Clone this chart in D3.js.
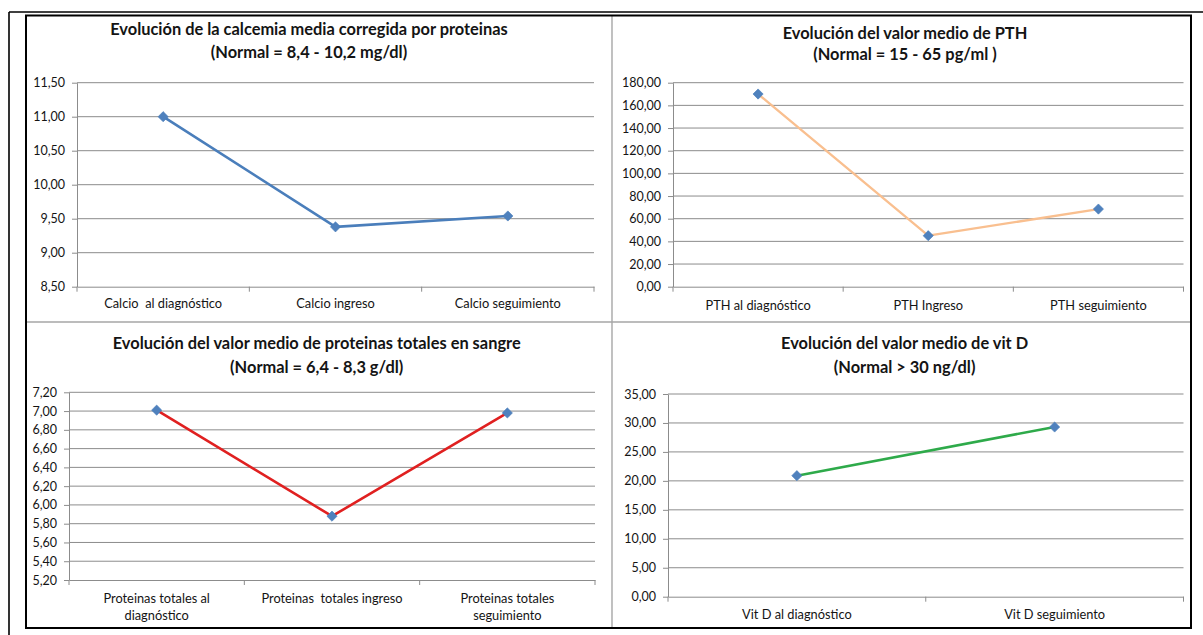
<!DOCTYPE html>
<html lang="es">
<head>
<meta charset="utf-8">
<script src="https://cdn.jsdelivr.net/npm/d3@7"></script>
<style>
  html, body { margin: 0; padding: 0; background: #ffffff; }
  svg { display: block; font-family: Lato, "Open Sans", sans-serif; }
  text { white-space: pre; }
</style>
</head>
<body>
<svg id="chart" width="1203" height="635"></svg>
<script>
// ---- Calcemia corregida por proteínas ----
const calcioTitulo = ["Evolución de la calcemia media corregida por proteinas", "(Normal = 8,4 - 10,2 mg/dl)"];
const calcioCategorias = [["Calcio  al diagnóstico"], ["Calcio ingreso"], ["Calcio seguimiento"]];
const calcioValores = [11.00, 9.38, 9.54];
const calcioTicks = [8.5, 9.0, 9.5, 10.0, 10.5, 11.0, 11.5];

// ---- PTH ----
const pthTitulo = ["Evolución del valor medio de PTH", "(Normal = 15 - 65 pg/ml )"];
const pthCategorias = [["PTH al diagnóstico"], ["PTH Ingreso"], ["PTH seguimiento"]];
const pthValores = [170.0, 45.0, 68.5];
const pthTicks = [0, 20, 40, 60, 80, 100, 120, 140, 160, 180];

// ---- Proteínas totales ----
const protTitulo = ["Evolución del valor medio de proteinas totales en sangre", "(Normal = 6,4 - 8,3 g/dl)"];
const protCategorias = [["Proteinas totales al", "diagnóstico"], ["Proteinas  totales ingreso"], ["Proteinas totales", "seguimiento"]];
const protValores = [7.01, 5.88, 6.98];
const protTicks = [5.2, 5.4, 5.6, 5.8, 6.0, 6.2, 6.4, 6.6, 6.8, 7.0, 7.2];

// ---- Vitamina D ----
const vitdTitulo = ["Evolución del valor medio de vit D", "(Normal > 30 ng/dl)"];
const vitdCategorias = [["Vit D al diagnóstico"], ["Vit D seguimiento"]];
const vitdValores = [20.9, 29.3];
const vitdTicks = [0, 5, 10, 15, 20, 25, 30, 35];

const fmt = d3.formatLocale({ decimal: ",", thousands: ".", grouping: [3], currency: ["", " €"] }).format(".2f");

const svg = d3.select("#chart");
const W = 1203, H = 635;

// outer frame lines
svg.append("line").attr("x1", 9).attr("y1", 12).attr("x2", W + 5).attr("y2", 12)
  .attr("stroke", "#000").attr("stroke-width", 1.6);
svg.append("line").attr("x1", 9).attr("y1", 12).attr("x2", 9).attr("y2", H + 5)
  .attr("stroke", "#000").attr("stroke-width", 1.6);

// panel separators
svg.append("line").attr("x1", 612).attr("y1", 16).attr("x2", 612).attr("y2", 628)
  .attr("stroke", "#a6a6a6").attr("stroke-width", 1.4);
svg.append("line").attr("x1", 26).attr("y1", 322).attr("x2", 1191).attr("y2", 322)
  .attr("stroke", "#a6a6a6").attr("stroke-width", 1.4);

// inner border
svg.append("rect").attr("x", 26).attr("y", 15.5).attr("width", 1165).attr("height", 612.5)
  .attr("fill", "none").attr("stroke", "#000").attr("stroke-width", 2);

const paneles = [
  { titulo: calcioTitulo, cats: calcioCategorias, vals: calcioValores, ticks: calcioTicks,
    color: "#4a7ebb", lw: 2.6, x0: 77, x1: 594, yTop: 82.7, yBot: 286.7,
    tx: 309, ty: 34.5, tGap: 23, lblOff: 21.3 },
  { titulo: pthTitulo, cats: pthCategorias, vals: pthValores, ticks: pthTicks,
    color: "#f9bf8f", lw: 2.3, x0: 673, x1: 1183.5, yTop: 82.7, yBot: 286.7,
    tx: 905, ty: 38.5, tGap: 21.5, lblOff: 23.3 },
  { titulo: protTitulo, cats: protCategorias, vals: protValores, ticks: protTicks,
    color: "#e02020", lw: 2.6, x0: 69, x1: 595, yTop: 392.3, yBot: 580,
    tx: 316.7, ty: 349.2, tGap: 23.4, lblOff: 22.8 },
  { titulo: vitdTitulo, cats: vitdCategorias, vals: vitdValores, ticks: vitdTicks,
    color: "#2eaa4a", lw: 2.6, x0: 668, x1: 1183.5, yTop: 394, yBot: 596.7,
    tx: 904.6, ty: 349.2, tGap: 23.4, lblOff: 22.8 }
];

const gridColor = "#8c8c8c";
const textColor = "#141414";
const diamond = d3.symbol().type(d3.symbolSquare).size(52);

paneles.forEach(p => {
  const g = svg.append("g");
  const keys = p.cats.map(c => c.join(" "));
  const x = d3.scaleBand().domain(keys).range([p.x0, p.x1]).paddingInner(0).paddingOuter(0);
  const y = d3.scaleLinear().domain(d3.extent(p.ticks)).range([p.yBot, p.yTop]);

  // title
  const t = g.append("text").attr("text-anchor", "middle")
    .attr("font-weight", "bold").attr("font-size", 16.4).attr("fill", textColor);
  p.titulo.forEach((line, i) => {
    t.append("tspan").attr("x", p.tx).attr("y", p.ty + i * p.tGap).text(line);
  });

  // horizontal gridlines
  g.append("g").selectAll("line").data(p.ticks.slice(1)).join("line")
    .attr("x1", p.x0).attr("x2", p.x1)
    .attr("y1", d => y(d)).attr("y2", d => y(d))
    .attr("stroke", gridColor).attr("stroke-width", 1);

  // y axis
  const ya = g.append("g").attr("transform", `translate(${p.x0},0)`)
    .call(d3.axisLeft(y).tickValues(p.ticks).tickSize(5).tickSizeOuter(0).tickPadding(7).tickFormat(fmt));
  ya.attr("font-family", null);
  ya.select(".domain").attr("stroke", gridColor);
  ya.selectAll(".tick line").attr("stroke", gridColor);
  ya.selectAll(".tick text").attr("font-size", 12.5).attr("fill", textColor);

  // x axis baseline + boundary ticks
  const xa = g.append("g").attr("transform", `translate(0,${p.yBot})`)
    .call(d3.axisBottom(x).tickSize(0).tickSizeOuter(0).tickFormat(""));
  xa.attr("font-family", null);
  xa.select(".domain").attr("stroke", gridColor);
  const bounds = keys.map(k => x(k)).concat([p.x1]);
  xa.selectAll("line.bound").data(bounds).join("line").attr("class", "bound")
    .attr("x1", d => d).attr("x2", d => d).attr("y1", 0).attr("y2", 5)
    .attr("stroke", gridColor);

  // category labels
  xa.selectAll(".tick").each(function (k, i) {
    const txt = d3.select(this).append("text").attr("text-anchor", "middle")
      .attr("font-size", 12.8).attr("fill", textColor);
    p.cats[i].forEach((line, j) => {
      txt.append("tspan").attr("x", 0).attr("y", p.lblOff + j * 16.7).text(line);
    });
  });

  // series line
  const cx = i => x(keys[i]) + x.bandwidth() / 2;
  g.append("path").datum(p.vals)
    .attr("fill", "none").attr("stroke", p.color).attr("stroke-width", p.lw)
    .attr("stroke-linejoin", "round")
    .attr("d", d3.line().x((d, i) => cx(i)).y(d => y(d)));

  // diamond markers
  g.append("g").selectAll("path").data(p.vals).join("path")
    .attr("d", diamond)
    .attr("transform", (d, i) => `translate(${cx(i)},${y(d)}) rotate(45)`)
    .attr("fill", "#4f81bd").attr("stroke", "#4a7ebb").attr("stroke-width", 0.6);
});
</script>
</body>
</html>
